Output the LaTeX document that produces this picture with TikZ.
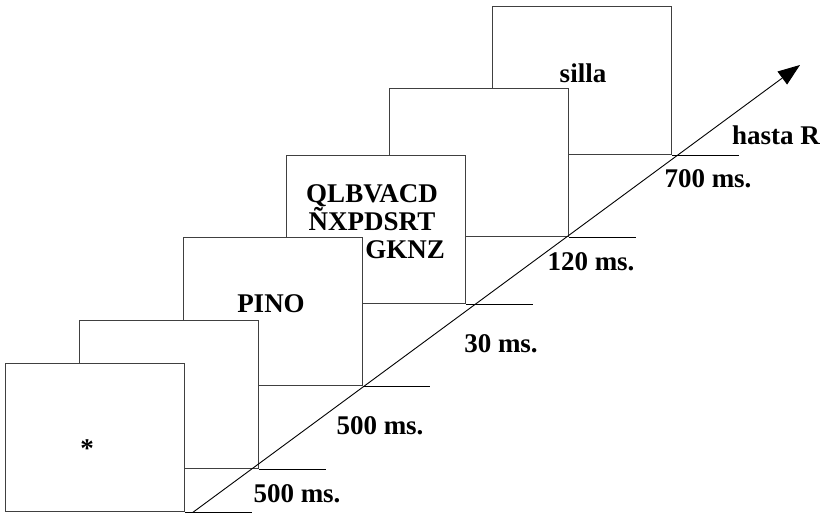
\documentclass[tikz,border=0pt]{standalone}
\usepackage{fontspec}
\setmainfont{Liberation Serif}
\usetikzlibrary{arrows.meta}

\begin{document}
\begin{tikzpicture}[
  x=1pt, y=-1pt,
  screen/.style={draw=black!75, line width=1.1pt, fill=white, anchor=north west,
    minimum width=179pt, minimum height=148pt, inner sep=0pt},
  word/.style={font=\fontsize{27}{30}\selectfont\bfseries, inner sep=0pt, anchor=base},
  timeline/.style={line width=0.9pt},
  arrow/.style={-{Triangle[length=22pt,width=16pt]}, line width=0.9pt}
]
\useasboundingbox (0,0) rectangle (823,513);

% screens, from the last one (back) to the first one (front)
\node[screen] (target) at (492,6) {};
\draw[timeline] (target.south east) -- ++(67,0);
\node[word] (silla) at (583,83) {silla};

\node[screen] (blankB) at (389,88) {};
\draw[timeline] (blankB.south east) -- ++(67,0);

\node[screen] (mask) at (286,155) {};
\draw[timeline] (mask.south east) -- ++(67,0);
\node[word] (maskA) at (372,203) {QLBVACD};
\node[word] (maskB) at (372,231) {ÑXPDSRT};
\node[word, anchor=base east] (maskC) at (445,259) {GKNZ};

\node[screen] (prime) at (183,237) {};
\draw[timeline] (prime.south east) -- ++(67,0);
\node[word] (pino) at (271,313) {PINO};

\node[screen] (blankA) at (79,320) {};
\draw[timeline] (blankA.south east) -- ++(67,0);

\node[screen] (fix) at (5,363) {};
\draw[timeline] (fix.south east) -- ++(67,0);
\node[word] (star) at (87,457) {*};

% durations
\node[word] (tFix) at (297,502) {500 ms.};
\node[word] (tBlankA) at (380,435) {500 ms.};
\node[word] (tPrime) at (501,353) {30 ms.};
\node[word] (tMask) at (591,271) {120 ms.};
\node[word] (tBlankB) at (708,188) {700 ms.};
\node[word] (tTarget) at (776,145) {hasta R};

% time axis
\coordinate (t0) at (192,513);
\coordinate (t1) at (800,65);
\draw[arrow] (t0) -- (t1);
\end{tikzpicture}
\end{document}
